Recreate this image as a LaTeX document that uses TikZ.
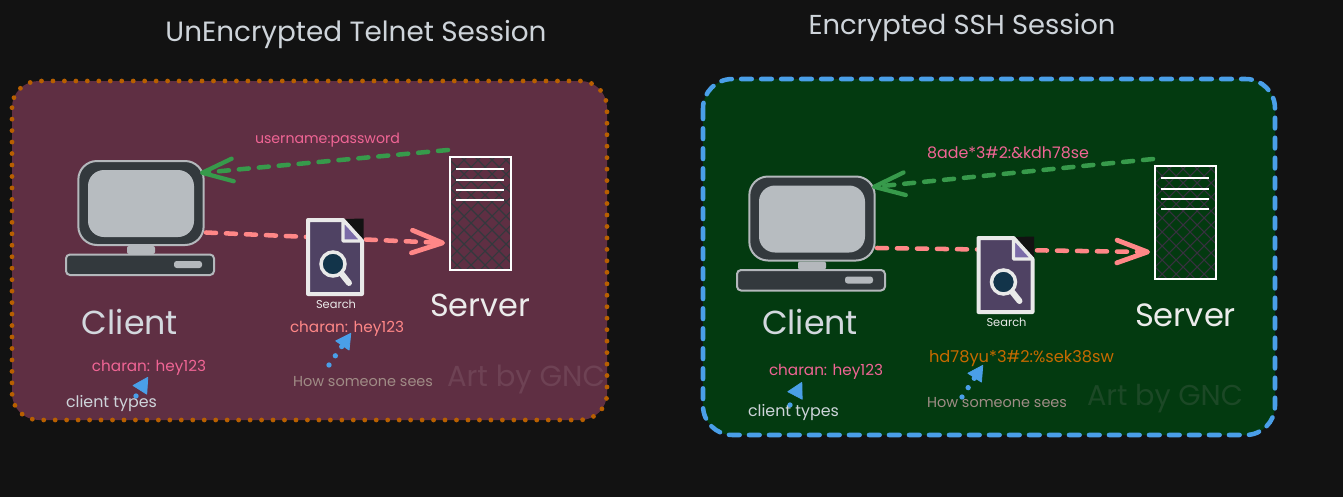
\documentclass[tikz,border=0pt]{standalone}
\usepackage{fontspec}
\setmainfont{Poppins}
\usetikzlibrary{arrows.meta}
\definecolor{bgc}{HTML}{121212}
\definecolor{redbox}{HTML}{5F2F43}
\definecolor{greenbox}{HTML}{033A10}
\definecolor{orangeb}{HTML}{B85F00}
\definecolor{blueb}{HTML}{4A9FE8}
\definecolor{greenl}{HTML}{379A4B}
\definecolor{redl}{HTML}{FF8787}
\definecolor{pinkt}{HTML}{F06595}
\definecolor{titlec}{HTML}{CED4DA}
\definecolor{monout}{HTML}{B4B8BC}
\definecolor{mondark}{HTML}{33393D}
\definecolor{monscr}{HTML}{B7BCC0}
\definecolor{docfill}{HTML}{4F4263}
\definecolor{docline}{HTML}{E9E9E9}
\definecolor{fold}{HTML}{7B6BA8}
\definecolor{lens}{HTML}{12344A}
\definecolor{seesc}{HTML}{A08C86}
\definecolor{encorange}{HTML}{C66A00}
\definecolor{artA}{HTML}{6E4254}
\definecolor{artB}{HTML}{1C4826}
\definecolor{hatchB}{HTML}{37303F}
\newlength\fitlen
\newcommand{\fitw}[2]{\setlength\fitlen{#1pt}\setlength\fitlen{.75\fitlen}\resizebox{\fitlen}{!}{#2}}
\tikzset{
  lab/.style={inner sep=0pt,outer sep=0pt,anchor=center,font=\fontsize{14}{16}\selectfont},
  wire/.style={line width=3.4pt,dash pattern=on 7.5pt off 7.5pt,line cap=round},
  greenwire/.style={wire,draw=greenl,-{Straight Barb[length=23pt,width=17pt,line width=3.2pt,round]}},
  redwire/.style={wire,draw=redl,-{Straight Barb[length=23pt,width=17pt,line width=3.6pt,round]}},
  bluewire/.style={line width=4pt,line cap=round,dash pattern=on 0pt off 8.4pt,draw=blueb,
     -{Triangle[length=12pt,width=13pt,round,line width=.6pt]}},
  monbox/.style={draw=monout,fill=mondark,line width=1.5pt,rounded corners=14pt,
     minimum width=94pt,minimum height=63pt,inner sep=0pt,outer sep=0pt},
  srvbox/.style={draw=white,line width=1.6pt,minimum width=45.5pt,minimum height=84.5pt,inner sep=0pt,outer sep=0pt},
}
\newcommand{\clientpic}[3]{%
\begin{scope}[shift={(#2,#3)}]
  \node[monbox] (mon#1) at (141,203) {};
  \fill[monscr,rounded corners=12pt] (88,170) rectangle (194,237);
  \fill[monout,rounded corners=1.5pt] (127,246) rectangle (155,254);
  \draw[monout,fill=mondark,line width=1.5pt,rounded corners=3pt] (66,254.5) rectangle (214,275);
  \fill[monout,rounded corners=2pt] (174,261) rectangle (202,268);
  \coordinate (clin#1) at (200,173);
  \coordinate (clout#1) at (206,232.5);
\end{scope}}
\newcommand{\serverpic}[4]{%
\begin{scope}[shift={(#2,#3)}]
  \begin{scope}
    \clip (450,157) rectangle (511,270);
    \foreach \i in {-120,-106,...,120}{
      \draw[#4,line width=.8pt] (450,210+\i) -- ++(61,61);
      \draw[#4,line width=.8pt] (450,210+\i) -- ++(61,-61);
    }
  \end{scope}
  \node[srvbox] (srv#1) at (480.5,213.5) {};
  \foreach \yy in {169,180,190,200}{\draw[white,line width=1.3pt] (456,\yy) -- (504,\yy);}
  \coordinate (srin#1) at (445,243);
\end{scope}}
\newcommand{\docpic}[3]{%
\begin{scope}[shift={(#2,#3)}]
  \fill[bgc] (345,219) -- (363.5,218.5) -- (363.5,242) -- cycle;
  \draw[docline,fill=docfill,line width=3pt,line join=round] (308,220) -- (343,220) -- (362,241) -- (362,294) -- (308,294) -- cycle;
  \draw[docline,fill=fold,line width=2.4pt,line join=round] (343,220) -- (343,241) -- (362,241) -- cycle;
  \draw[docline,line width=4.5pt,line cap=round] (341,273) -- (349,283);
  \draw[docline,fill=lens,line width=2.6pt] (333,264) circle[radius=12];
  \node[lab,text=docline] (search#1) at (336,304.5) {\fitw{40}{Search}};
\end{scope}}
\begin{document}
\begin{tikzpicture}[x=0.75pt,y=-0.75pt]
\useasboundingbox (0,0) rectangle (1343,497);
\fill[bgc] (0,0) rectangle (1343,497);
% panels
\draw[orangeb,fill=redbox,line width=3.6pt,line cap=round,dash pattern=on 0pt off 8.6pt,rounded corners=20pt] (12,81) rectangle (607,420);
\draw[blueb,fill=greenbox,line width=3.4pt,line cap=round,dash pattern=on 8pt off 7pt,rounded corners=22pt] (703,79) rectangle (1275,435);
% titles
\node[lab,text=titlec] (t1) at (356,35) {\fitw{381}{UnEncrypted Telnet Session}};
\node[lab,text=titlec] (t2) at (962,28) {\fitw{307}{Encrypted SSH Session}};
% left panel
\clientpic{A}{0}{0}
\serverpic{A}{0}{0}{mondark}
\coordinate (srvoutA) at (448,150);
\draw[greenwire] (srvoutA) -- (clinA);
\draw[redwire] (cloutA) -- (srinA);
\docpic{A}{0}{0}
\node[lab,text=pinkt] (upA) at (327.5,140) {\fitw{145}{username:password}};
\node[lab,text=titlec!90!white] (clientA) at (130,322) {\fitw{96}{Client}};
\node[lab,text=white!92!black] (serverA) at (480,305) {\fitw{100}{Server}};
\node[lab,text=redl] (seenA) at (347,329) {\fitw{114}{charan: hey123}};
\node[lab,text=pinkt] (typedA) at (149,368) {\fitw{114}{charan: hey123}};
\node[lab,text=titlec] (typesA) at (111.5,404) {\fitw{91}{client types}};
\node[lab,text=seesc] (seesA) at (363,382) {\fitw{140}{How someone sees}};
\node[lab,text=artA] (artnA) at (526,379) {\fitw{158}{Art by GNC}};
\coordinate (b1sA) at (136,396); \coordinate (b1tA) at (148,377);
\coordinate (b2sA) at (329,365); \coordinate (b2tA) at (351,333);
\draw[bluewire] (b1sA) -- (b1tA);
\draw[bluewire] (b2sA) -- (b2tA);
% right panel
\clientpic{B}{671}{15.5}
\serverpic{B}{705}{9}{hatchB}
\coordinate (srvoutB) at (1153,159);
\coordinate (clinB) at (872,187);
\coordinate (srinB) at (1150,252);
\draw[greenwire] (srvoutB) -- (clinB);
\draw[redwire] (cloutB) -- (srinB);
\docpic{B}{670.5}{18}
\node[lab,text=pinkt] (upB) at (1008,153) {\fitw{162}{8ade*3\#2:\&kdh78se}};
\node[lab,text=titlec!90!white] (clientB) at (810,322) {\fitw{96}{Client}};
\node[lab,text=white!92!black] (serverB) at (1185.5,315) {\fitw{101}{Server}};
\node[lab,text=encorange] (seenB) at (1021.5,359) {\fitw{185}{hd78yu*3\#2:\%sek38sw}};
\node[lab,text=pinkt] (typedB) at (826,372) {\fitw{114}{charan: hey123}};
\node[lab,text=titlec] (typesB) at (793.5,413) {\fitw{91}{client types}};
\node[lab,text=seesc] (seesB) at (997,403) {\fitw{140}{How someone sees}};
\node[lab,text=artB] (artnB) at (1165,399) {\fitw{156}{Art by GNC}};
\coordinate (b1sB) at (790,405); \coordinate (b1tB) at (802,382);
\coordinate (b2sB) at (962,397); \coordinate (b2tB) at (983,365);
\draw[bluewire] (b1sB) -- (b1tB);
\draw[bluewire] (b2sB) -- (b2tB);
\end{tikzpicture}
\end{document}
